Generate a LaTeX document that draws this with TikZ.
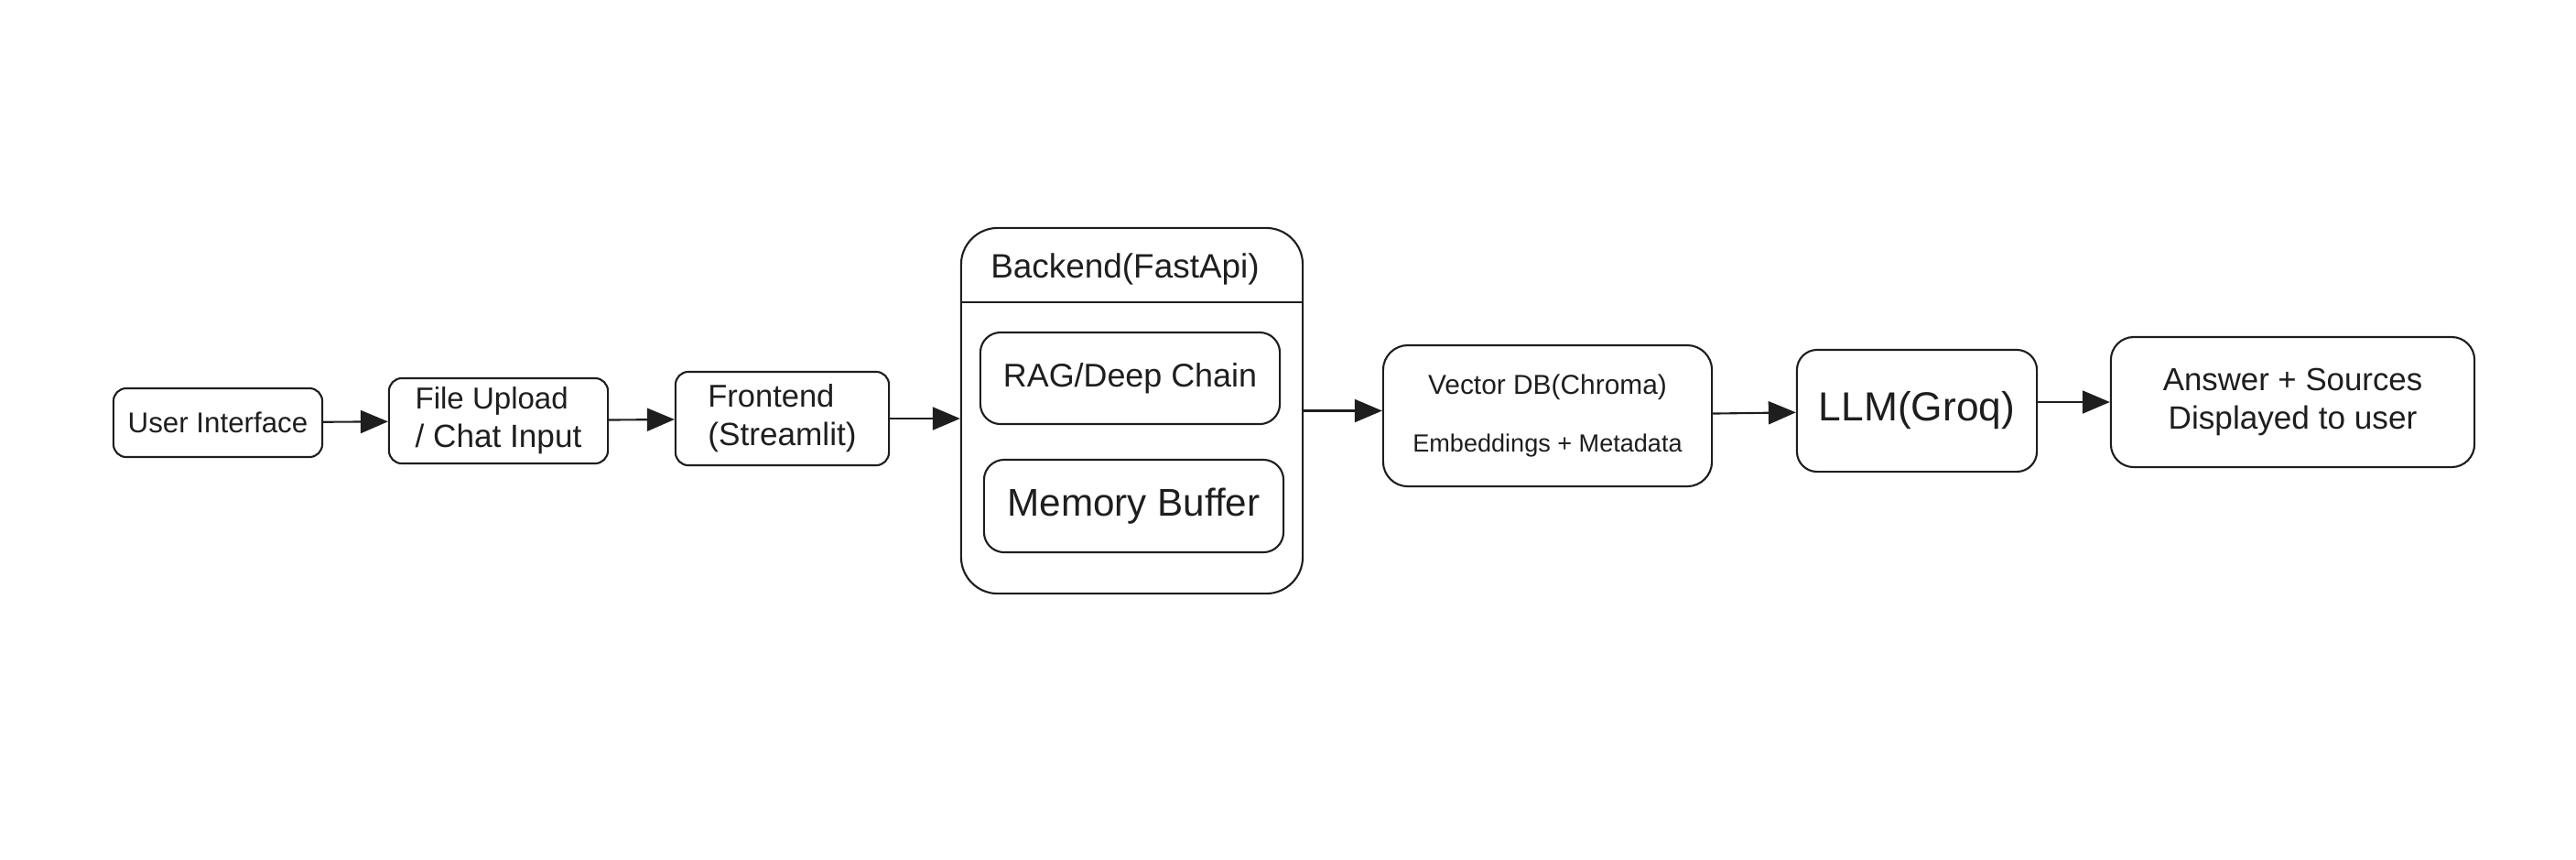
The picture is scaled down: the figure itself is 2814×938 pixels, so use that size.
\documentclass[tikz,border=0pt]{standalone}
\usepackage{fontspec}
\setmainfont{Liberation Sans}
\usetikzlibrary{arrows.meta}
\definecolor{ink}{RGB}{30,30,30}
\tikzset{
  box/.style = {draw=ink, text=ink, line width=0.6pt, rounded corners=0.14cm, inner sep=0pt, align=left},
  arr/.style = {-{Triangle[length=0.3cm,width=0.25cm]}, draw=ink, fill=ink, line width=0.6pt},
}
\begin{document}
\begin{tikzpicture}[x = 0.01cm, y = -0.01cm]
  \useasboundingbox (0,0) rectangle (2814,938);
  \node [box, minimum width=2.28cm, minimum height=0.75cm] (ui) at (238,461.5)
    {\fontsize{8.9}{11}\selectfont User Interface};
  \node [box, minimum width=2.39cm, minimum height=0.93cm] (fu) at (544.5,459.5)
    {\fontsize{9.4}{11}\selectfont File Upload\\/ Chat Input};
  \node [box, minimum width=2.33cm, minimum height=1.02cm] (fe) at (854.5,457)
    {\fontsize{9.8}{12}\selectfont Frontend\\(Streamlit)};
  % backend with its two parts
  \node [box, rounded corners=0.4cm, minimum width=3.73cm, minimum height=3.99cm] (be) at (1236.5,448.5) {};
  \node [text=ink] (bet) at (1229,294) {\fontsize{10.5}{12}\selectfont Backend(FastApi)};
  \draw [ink, line width=0.6pt] (be.west |- 0,330) -- (be.east |- 0,330);
  \node [box, rounded corners=0.22cm, minimum width=3.27cm, minimum height=1.00cm] (rag) at (1234.5,413)
    {\fontsize{10.2}{12}\selectfont RAG/Deep Chain};
  \node [box, rounded corners=0.22cm, minimum width=3.27cm, minimum height=1.01cm] (mem) at (1238.5,552.5)
    {\fontsize{12}{14}\selectfont Memory Buffer};
  \node [box, align=center, rounded corners=0.27cm, minimum width=3.59cm, minimum height=1.54cm] (vdb) at (1690.5,454)
    {\fontsize{8.5}{10}\selectfont Vector DB(Chroma)\\[6pt]\fontsize{7.7}{10}\selectfont Embeddings + Metadata};
  \node [box, rounded corners=0.22cm, minimum width=2.62cm, minimum height=1.33cm] (llm) at (2094,448.5)
    {\fontsize{12.6}{15}\selectfont LLM(Groq)};
  \node [box, align=center, rounded corners=0.25cm, minimum width=3.97cm, minimum height=1.42cm] (ans) at (2504.5,439)
    {\fontsize{9.9}{12.2}\selectfont Answer + Sources\\Displayed to user};
  \draw [arr] (ui) -- (fu);
  \draw [arr] (fu) -- (fe);
  \draw [arr] (fe.east) -- (fe.east -| be.west);
  \draw [arr] (be.east) -- (be.east -| vdb.west);
  \draw [arr] (vdb) -- (llm);
  \draw [arr] (llm.east |- ans.west) -- (ans.west);
\end{tikzpicture}
\end{document}
